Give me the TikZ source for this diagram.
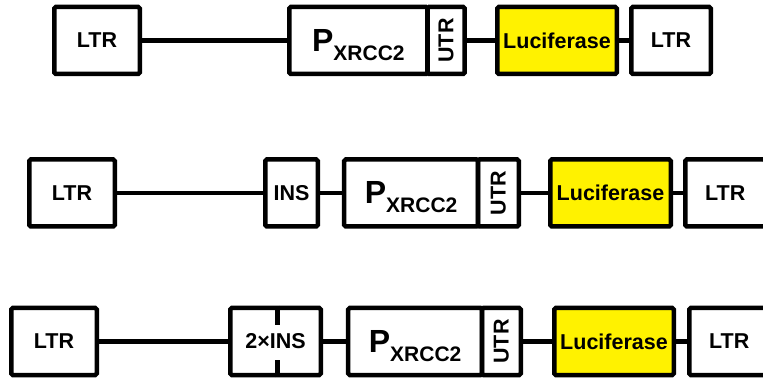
\documentclass[tikz,border=0pt]{standalone}
\usepackage{fontspec}
\setmainfont{Liberation Sans}
\begin{document}
\begin{tikzpicture}[x=1pt,y=-1pt,
  box/.style={draw=black, line width=4.5pt, rounded corners=1.5pt, inner sep=0pt,
    minimum height=67pt, font=\bfseries\fontsize{21.5}{26}\selectfont},
  luc/.style={box, fill=yellow},
  prom/.style={box, text height=22pt, text depth=0pt},
  link/.style={line width=4.5pt},
  tick/.style={line width=5pt}]
\useasboundingbox (0,0) rectangle (763,379);
\clip (0,0) rectangle (763,379);
\newcommand{\pxr}{{\fontsize{32}{38}\selectfont P}\raisebox{-9pt}{\fontsize{21}{25}\selectfont XRCC2}}
% Row 1
\node[box, minimum width=85.5pt] (L1a) at (97,40.5) {LTR};
\node[prom, minimum width=138.25pt] (P1) at (358.4,40.5) {\pxr};
\node[box, minimum width=37.25pt] (U1) at (446.1,40.5) {\rotatebox{90}{UTR}};
\node[luc, minimum width=119.5pt] (C1) at (557,40.5) {Luciferase};
\node[box, minimum width=79.5pt] (L1b) at (671,40.5) {LTR};
\draw[link] (L1a.east) -- (P1.west);
\draw[link] (U1.east) -- (C1.west);
\draw[link] (C1.east) -- (L1b.west);
% Row 2
\node[box, minimum width=85.5pt] (L2a) at (72,193) {LTR};
\node[box, minimum width=52.5pt] (I2) at (291.5,193) {INS};
\node[prom, minimum width=133.75pt] (P2) at (411.1,193) {\pxr};
\node[box, minimum width=40.75pt] (U2) at (498.4,193) {\rotatebox{90}{UTR}};
\node[luc, minimum width=120.5pt] (C2) at (610.5,193) {Luciferase};
\node[box, minimum width=80pt] (L2b) at (725.25,193) {LTR};
\draw[link] (L2a.east) -- (I2.west);
\draw[link] (I2.east) -- (P2.west);
\draw[link] (U2.east) -- (C2.west);
\draw[link] (C2.east) -- (L2b.west);
% Row 3
\node[box, minimum width=85.5pt] (L3a) at (54,341.5) {LTR};
\node[box, minimum width=90.5pt] (I3) at (275.5,341.5) {2×INS};
\node[prom, minimum width=133.75pt] (P3) at (415.1,341.5) {\pxr};
\node[box, minimum width=38.75pt] (U3) at (501.4,341.5) {\rotatebox{90}{UTR}};
\node[luc, minimum width=119.5pt] (C3) at (614,341.5) {Luciferase};
\node[box, minimum width=80pt] (L3b) at (729.25,341.5) {LTR};
\draw[link] (L3a.east) -- (I3.west);
\draw[link] (I3.east) -- (P3.west);
\draw[link] (U3.east) -- (C3.west);
\draw[link] (C3.east) -- (L3b.west);
\draw[tick] ([xshift=1.5pt]I3.north) -- ++(0,19);
\draw[tick] ([xshift=1.5pt]I3.south) -- ++(0,-17);
\end{tikzpicture}
\end{document}
